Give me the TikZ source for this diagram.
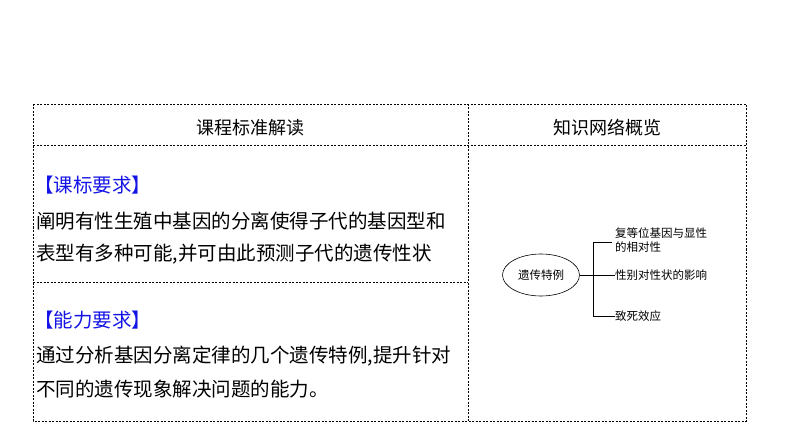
\documentclass[tikz,border=0pt]{standalone}
\usepackage{fontspec}
\setmainfont{Noto Sans CJK SC}
\usetikzlibrary{shapes.geometric}
\definecolor{hblue}{RGB}{20,20,230}
\tikzset{tline/.style={densely dashed,line width=0.6pt,dash pattern=on 2pt off 1.5pt},
 body/.style={anchor=west,inner sep=0pt,font=\fontsize{19.5}{22}\selectfont},
 small/.style={anchor=west,inner sep=0pt,font=\fontsize{11.5}{14}\selectfont,align=left}}
\begin{document}
\begin{tikzpicture}[x=1pt,y=-1pt]
\useasboundingbox (0,0) rectangle (794,446);
\draw[tline] (33,104) rectangle (746,421);
\draw[tline] (468,104) -- (468,421);
\draw[tline] (33,145) -- (746,145);
\draw[tline] (33,282) -- (468,282);
\node[font=\fontsize{18}{20}\selectfont] (h1) at (250,128) {课程标准解读};
\node[font=\fontsize{18}{20}\selectfont] (h2) at (607,128) {知识网络概览};
\node[body,text=hblue] (k1) at (34,185) {【课标要求】};
\node[body] (k2) at (36,221) {阐明有性生殖中基因的分离使得子代的基因型和};
\node[body] (k3) at (36,254) {表型有多种可能,并可由此预测子代的遗传性状};
\node[body,text=hblue] (n1) at (34,320) {【能力要求】};
\node[body] (n2) at (36,356) {通过分析基因分离定律的几个遗传特例,提升针对};
\node[body] (n3) at (36,389) {不同的遗传现象解决问题的能力。};
\node[draw,ellipse,minimum width=77,minimum height=42,inner sep=0pt,font=\fontsize{11.5}{14}\selectfont,line width=0.6pt] (e) at (541,275) {遗传特例};
\coordinate (j) at (593,275);
\node[small] (b1) at (615,240) {复等位基因与显性\\的相对性};
\node[small] (b2) at (615,275) {性别对性状的影响};
\node[small] (b3) at (615,316) {致死效应};
\draw[line width=0.6pt] (e.east) -- (b2.west);
\draw[line width=0.6pt] (593,242) -- (593,316) -- (b3.west);
\draw[line width=0.6pt] (593,242) -- (612,242);
\end{tikzpicture}
\end{document}
